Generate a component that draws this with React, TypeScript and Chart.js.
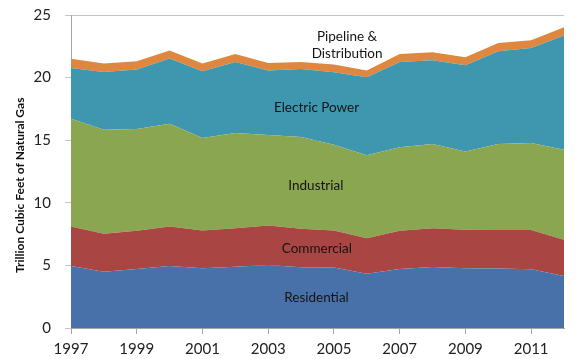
import React, { useEffect, useRef } from "react";
import { Chart, registerables } from "chart.js";

Chart.register(...registerables);

const years = [1997, 1998, 1999, 2000, 2001, 2002, 2003, 2004, 2005, 2006, 2007, 2008, 2009, 2010, 2011, 2012];
const tickYears = [1997, 1999, 2001, 2003, 2005, 2007, 2009, 2011];
const residential = [4.96, 4.5, 4.72, 4.96, 4.77, 4.9, 5.04, 4.85, 4.83, 4.34, 4.72, 4.88, 4.78, 4.76, 4.7, 4.16];
const commercial = [3.14, 3.02, 3.04, 3.14, 3.02, 3.07, 3.15, 3.07, 2.96, 2.83, 3.04, 3.09, 3.06, 3.06, 3.12, 2.88];
const industrial = [8.62, 8.32, 8.14, 8.22, 7.38, 7.6, 7.22, 7.33, 6.85, 6.62, 6.67, 6.72, 6.26, 6.87, 6.95, 7.2];
const electricPower = [4.05, 4.61, 4.74, 5.2, 5.33, 5.68, 5.15, 5.44, 5.79, 6.24, 6.82, 6.7, 6.89, 7.42, 7.6, 9.12];
const pipeline = [0.73, 0.67, 0.66, 0.64, 0.62, 0.64, 0.61, 0.56, 0.61, 0.53, 0.64, 0.64, 0.64, 0.66, 0.62, 0.67];
const yTicks = [0, 5, 10, 15, 20, 25];

const seriesNames = ["Residential", "Commercial", "Industrial", "Electric Power", "Pipeline & Distribution"];
const seriesColors = ["#4771a8", "#a94643", "#8aa651", "#3f96af", "#e0873f"];

// area label annotations in data coordinates: [text, year, value]
const areaLabels: [string, number, number][] = [
  ["Pipeline &", 2005.4, 23.27],
  ["Distribution", 2005.4, 21.88],
  ["Electric Power", 2004.47, 17.57],
  ["Industrial", 2004.45, 11.34],
  ["Commercial", 2004.48, 6.31],
  ["Residential", 2004.47, 2.4],
];
const yAxisTitle = "Trillion Cubic Feet of Natural Gas";

const FONT = "Lato, 'Open Sans', sans-serif";

export default function App() {
  const ref = useRef<HTMLCanvasElement | null>(null);

  useEffect(() => {
    document.body.style.margin = "0";
    const canvas = ref.current;
    if (!canvas) return;
    const allSeries = [residential, commercial, industrial, electricPower, pipeline];

    const labelPlugin = {
      id: "areaLabels",
      afterDatasetsDraw(chart: any) {
        const ctx = chart.ctx;
        const xs = chart.scales.x;
        const ys = chart.scales.y;
        ctx.save();
        ctx.font = `13.5px ${FONT}`;
        ctx.fillStyle = "#141414";
        ctx.textAlign = "center";
        ctx.textBaseline = "middle";
        for (const [t, yr, v] of areaLabels) {
          ctx.fillText(t, xs.getPixelForValue(yr), ys.getPixelForValue(v));
        }
        // y axis title
        ctx.font = `bold 12px ${FONT}`;
        ctx.fillStyle = "#111";
        ctx.translate(20, ys.getPixelForValue(11.4));
        ctx.rotate(-Math.PI / 2);
        ctx.fillText(yAxisTitle, 0, 0);
        ctx.restore();
      },
    };

    const chart = new Chart(canvas, {
      type: "line",
      data: {
        datasets: allSeries.map((s, i) => ({
          label: seriesNames[i],
          data: s.map((v, j) => ({ x: years[j], y: v })),
          fill: i === 0 ? "origin" : "-1",
          backgroundColor: seriesColors[i],
          borderColor: seriesColors[i],
          borderWidth: 0,
          pointRadius: 0,
          tension: 0,
        })),
      },
      options: {
        responsive: false,
        animation: false,
        layout: { padding: { top: 15, right: 16, left: 0, bottom: 0 } },
        plugins: { legend: { display: false }, tooltip: { enabled: false } },
        scales: {
          x: {
            type: "linear",
            min: 1997,
            max: 2012,
            afterBuildTicks: (s: any) => {
              s.ticks = tickYears.map((v) => ({ value: v }));
            },
            afterFit: (s: any) => {
              s.height = 31;
              s.paddingLeft = 0;
              s.paddingRight = 0;
            },
            ticks: {
              autoSkip: false,
              maxRotation: 0,
              padding: 6,
              color: "#222",
              font: { family: FONT, size: 15 },
              callback: (v: any) => String(v),
            },
            grid: { drawOnChartArea: false, drawTicks: true, tickLength: 6, color: "#a6a6a6" },
            border: { color: "#a6a6a6" },
          },
          y: {
            stacked: true,
            min: 0,
            max: 25,
            afterBuildTicks: (s: any) => {
              s.ticks = yTicks.map((v) => ({ value: v }));
            },
            afterFit: (s: any) => {
              s.width = 71;
              s.paddingTop = 0;
              s.paddingBottom = 0;
            },
            ticks: {
              padding: 14,
              color: "#222",
              font: { family: FONT, size: 15 },
            },
            grid: { color: "#c4c4c4", tickLength: 6 },
            border: { color: "#a6a6a6" },
          },
        },
      },
      plugins: [labelPlugin],
    });
    return () => chart.destroy();
  }, []);

  return (
    <div style={{ width: 580, height: 359, background: "#fff" }}>
      <canvas ref={ref} width={580} height={359} style={{ display: "block" }} />
    </div>
  );
}
